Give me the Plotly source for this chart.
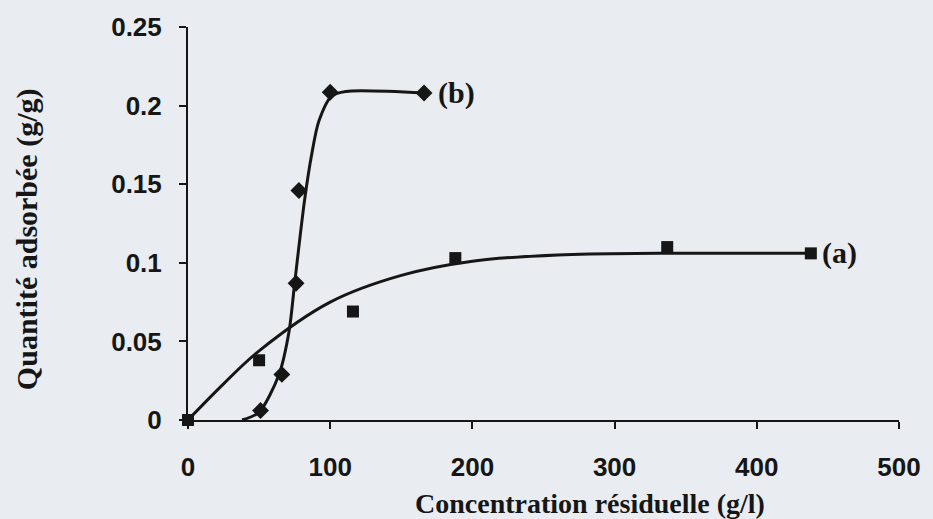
import plotly.graph_objects as go

# Measured points
conc_a = [0, 50, 116, 188, 337, 438]
q_a = [0, 0.038, 0.069, 0.103, 0.110, 0.106]

conc_b = [51, 66, 76, 78, 100, 166]
q_b = [0.006, 0.029, 0.087, 0.146, 0.2085, 0.208]

# Fitted curves
curve_a_x = [0, 25, 50, 100, 150, 200, 260, 330, 438]
curve_a_y = [0, 0.023, 0.044, 0.075, 0.092, 0.101, 0.105, 0.106, 0.106]

curve_b_x = [38, 50, 64, 71, 75, 82, 87, 92, 101, 111, 166]
curve_b_y = [0, 0.005, 0.029, 0.056, 0.087, 0.140, 0.169, 0.190, 0.206, 0.209, 0.208]

x_ticks = [0, 100, 200, 300, 400, 500]
y_ticks = [0, 0.05, 0.1, 0.15, 0.2, 0.25]
y_ticktext = ["0", "0.05", "0.1", "0.15", "0.2", "0.25"]

INK = "#161616"
BG = "#e9ecf0"

fig = go.Figure()
fig.add_trace(go.Scatter(x=curve_a_x, y=curve_a_y, mode="lines",
                         line=dict(color=INK, width=3, shape="spline", smoothing=1.0),
                         cliponaxis=False, hoverinfo="skip"))
fig.add_trace(go.Scatter(x=curve_b_x, y=curve_b_y, mode="lines",
                         line=dict(color=INK, width=3, shape="spline", smoothing=0.8),
                         cliponaxis=False, hoverinfo="skip"))
fig.add_trace(go.Scatter(x=conc_a, y=q_a, mode="markers",
                         marker=dict(symbol="square", size=12, color=INK),
                         cliponaxis=False))
fig.add_trace(go.Scatter(x=conc_b, y=q_b, mode="markers",
                         marker=dict(symbol="diamond", size=13, color=INK),
                         cliponaxis=False))

serif = dict(family="Liberation Serif", size=30, color=INK, weight="bold")
title_font = dict(family="Liberation Serif", size=28, color=INK, weight="bold")

fig.add_annotation(x=conc_a[-1], y=q_a[-1], xref="x", yref="y", text="(a)",
                   showarrow=False, xanchor="left", yanchor="middle", xshift=9,
                   font=serif)
fig.add_annotation(x=conc_b[-1], y=q_b[-1], xref="x", yref="y", text="(b)",
                   showarrow=False, xanchor="left", yanchor="middle", xshift=12,
                   font=serif)
fig.add_annotation(x=0.565, y=-0.212, xref="paper", yref="paper",
                   text="Concentration résiduelle (g/l)", showarrow=False,
                   xanchor="center", yanchor="middle", font=title_font)
fig.add_annotation(x=-0.226, y=0.461, xref="paper", yref="paper",
                   text="Quantité adsorbée (g/g)", showarrow=False, textangle=-90,
                   xanchor="center", yanchor="middle",
                   font=dict(family="Liberation Serif", size=30, color=INK, weight="bold"))

tickfont = dict(family="Liberation Sans", size=26, color=INK, weight="bold")

fig.update_layout(
    width=933, height=519,
    margin=dict(l=188, r=30, t=23, b=99),
    paper_bgcolor=BG, plot_bgcolor=BG,
    showlegend=False,
    xaxis=dict(range=[0, 500], tickvals=x_ticks, showgrid=False, zeroline=False,
               showline=True, linecolor=INK, linewidth=2,
               ticks="outside", ticklen=7, tickwidth=2, tickcolor=INK,
               tickfont=tickfont, ticklabelstandoff=16),
    yaxis=dict(range=[0, 0.25], tickvals=y_ticks, ticktext=y_ticktext,
               showgrid=False, zeroline=False,
               showline=True, linecolor=INK, linewidth=2,
               ticks="outside", ticklen=7, tickwidth=2, tickcolor=INK,
               tickfont=tickfont, ticklabelstandoff=12),
)

fig.write_html("out.html")
